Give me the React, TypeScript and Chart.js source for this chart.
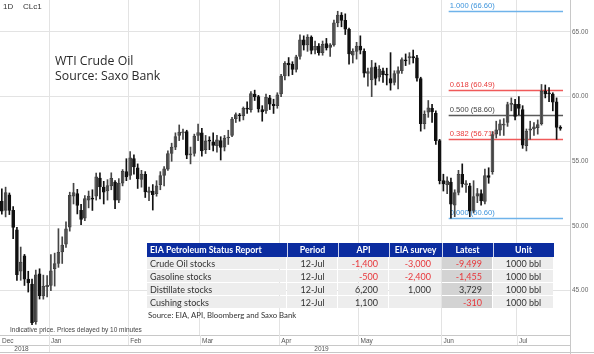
import React, { useEffect, useRef } from 'react';
import { Chart, registerables } from 'chart.js';
Chart.register(...registerables);

// ---- Data (WTI front month, daily OHLC) ----
const dates = [
  '2018-12-12','2018-12-13','2018-12-14','2018-12-17','2018-12-18','2018-12-19','2018-12-20','2018-12-21','2018-12-24','2018-12-26','2018-12-27','2018-12-28','2018-12-31',
  '2019-01-02','2019-01-03','2019-01-04','2019-01-07','2019-01-08','2019-01-09','2019-01-10','2019-01-11','2019-01-14','2019-01-15','2019-01-16','2019-01-17','2019-01-18','2019-01-22','2019-01-23','2019-01-24','2019-01-25','2019-01-28','2019-01-29','2019-01-30','2019-01-31',
  '2019-02-01','2019-02-04','2019-02-05','2019-02-06','2019-02-07','2019-02-08','2019-02-11','2019-02-12','2019-02-13','2019-02-14','2019-02-15','2019-02-19','2019-02-20','2019-02-21','2019-02-22','2019-02-25','2019-02-26','2019-02-27','2019-02-28',
  '2019-03-01','2019-03-04','2019-03-05','2019-03-06','2019-03-07','2019-03-08','2019-03-11','2019-03-12','2019-03-13','2019-03-14','2019-03-15','2019-03-18','2019-03-19','2019-03-20','2019-03-21','2019-03-22','2019-03-25','2019-03-26','2019-03-27','2019-03-28','2019-03-29',
  '2019-04-01','2019-04-02','2019-04-03','2019-04-04','2019-04-05','2019-04-08','2019-04-09','2019-04-10','2019-04-11','2019-04-12','2019-04-15','2019-04-16','2019-04-17','2019-04-18','2019-04-22','2019-04-23','2019-04-24','2019-04-25','2019-04-26','2019-04-29','2019-04-30',
  '2019-05-01','2019-05-02','2019-05-03','2019-05-06','2019-05-07','2019-05-08','2019-05-09','2019-05-10','2019-05-13','2019-05-14','2019-05-15','2019-05-16','2019-05-17','2019-05-20','2019-05-21','2019-05-22','2019-05-23','2019-05-24','2019-05-28','2019-05-29','2019-05-30','2019-05-31',
  '2019-06-03','2019-06-04','2019-06-05','2019-06-06','2019-06-07','2019-06-10','2019-06-11','2019-06-12','2019-06-13','2019-06-14','2019-06-17','2019-06-18','2019-06-19','2019-06-20','2019-06-21','2019-06-24','2019-06-25','2019-06-26','2019-06-27','2019-06-28',
  '2019-07-01','2019-07-02','2019-07-03','2019-07-05','2019-07-08','2019-07-09','2019-07-10','2019-07-11','2019-07-12','2019-07-15','2019-07-16','2019-07-17',
];
const opens = [
  51.90,51.20,52.40,51.20,49.70,46.50,47.70,45.90,45.50,42.60,46.30,44.60,45.30,
  45.40,46.70,47.10,48.00,48.60,49.90,52.30,52.50,51.20,50.60,52.00,52.10,52.30,53.70,53.00,52.70,53.10,53.40,52.00,53.30,54.20,
  53.90,55.20,54.50,53.60,54.00,52.60,52.70,52.50,53.20,53.90,54.40,55.60,56.10,57.00,57.20,57.30,55.50,55.60,57.00,
  57.20,55.90,56.60,56.50,56.20,56.60,56.10,56.80,57.00,58.30,58.60,58.50,59.10,59.00,60.20,60.00,59.00,58.90,59.90,59.40,59.30,
  60.20,61.60,62.60,62.50,62.10,63.10,64.40,64.00,64.60,63.60,63.90,63.40,64.10,63.80,64.00,65.70,66.30,65.90,65.20,63.20,63.50,
  63.90,63.50,61.80,61.30,62.30,61.50,62.00,61.70,61.40,61.10,61.80,62.00,62.80,63.00,63.10,63.00,61.40,57.90,58.80,59.10,58.70,56.60,
  53.50,53.20,53.40,51.60,52.60,54.00,53.20,53.10,51.20,52.30,52.50,51.90,53.90,54.20,57.10,57.40,57.80,58.00,59.40,59.40,
  59.40,59.00,56.20,57.40,57.50,57.60,57.90,60.40,60.30,60.20,59.60,57.60,
];
const highs = [
  52.88,53.00,52.55,51.50,49.90,48.37,47.80,46.50,45.90,46.59,46.69,46.20,46.16,
  47.78,47.90,49.79,49.16,50.31,52.61,53.30,52.83,51.68,52.35,52.70,52.80,54.09,54.10,53.45,53.58,54.11,53.50,53.66,54.36,55.20,
  55.75,55.50,54.80,54.30,54.20,53.00,53.20,53.50,54.20,54.60,55.80,56.40,57.20,57.81,57.50,57.40,56.10,57.10,57.88,
  57.55,57.00,56.90,57.20,57.00,56.90,57.00,57.40,58.40,58.74,58.70,59.20,59.60,60.39,60.50,60.10,59.30,60.20,60.10,59.80,60.30,
  61.73,62.70,63.02,62.70,63.20,64.77,64.70,64.79,64.70,64.30,64.10,64.30,64.50,64.10,65.92,66.60,66.50,66.40,65.30,63.70,64.20,
  64.70,63.70,62.20,62.80,62.60,62.40,62.20,62.20,63.40,62.00,62.30,63.00,63.30,63.40,63.60,63.20,61.50,58.90,59.70,59.40,58.90,56.70,
  54.00,53.80,53.70,52.80,54.30,54.80,53.50,53.30,53.50,52.90,52.80,54.40,54.50,57.30,58.10,58.20,58.30,59.57,59.90,59.80,
  60.00,59.30,57.50,58.10,58.00,58.20,60.94,60.90,60.70,60.30,59.90,57.75,
];
const lows = [
  50.91,50.70,50.88,49.02,45.79,45.80,45.40,44.89,42.36,42.40,44.35,44.34,44.51,
  45.00,45.35,46.80,47.10,48.35,49.60,51.70,50.93,50.10,50.40,51.40,51.20,52.00,52.10,51.70,52.00,52.80,51.33,51.80,53.10,53.50,
  53.60,54.00,52.90,53.00,52.20,51.95,51.23,52.30,52.80,53.10,54.30,55.00,55.90,56.60,56.70,55.20,54.80,55.40,56.60,
  55.40,55.60,55.90,55.80,55.70,55.10,55.80,56.30,56.90,58.00,58.10,58.20,58.70,58.80,59.70,58.80,58.10,58.70,59.00,58.70,59.10,
  60.00,61.30,61.60,61.70,61.90,62.90,63.60,63.50,63.30,63.30,63.20,63.20,63.60,63.10,63.90,65.40,65.40,64.80,62.50,62.60,62.90,
  63.30,61.50,60.80,60.00,60.90,61.20,61.10,60.90,60.50,60.90,60.60,61.80,62.40,62.50,62.60,61.20,57.33,57.50,58.40,58.00,56.30,53.25,
  52.70,52.50,50.60,50.72,52.40,53.00,52.60,50.72,51.00,51.80,51.60,51.70,53.30,54.00,56.80,57.00,57.00,57.70,58.90,58.20,
  58.60,56.00,55.80,56.70,57.00,57.10,57.80,59.90,59.60,58.90,56.70,57.40,
];
const closes = [
  51.15,52.58,51.20,49.88,46.24,47.20,45.88,45.59,42.53,46.22,44.61,45.33,45.41,
  46.54,47.09,47.96,48.52,49.78,52.36,52.59,51.59,50.51,52.11,52.31,52.07,53.80,53.01,52.62,53.13,53.69,51.99,53.31,54.23,53.79,
  55.26,54.56,53.66,54.01,52.64,52.72,52.41,53.10,53.90,54.41,55.59,56.09,56.92,57.26,57.26,55.48,55.50,56.94,57.22,
  55.80,56.59,56.56,56.22,56.66,56.07,56.79,56.87,58.26,58.61,58.52,59.09,59.03,60.23,59.98,59.04,58.82,59.94,59.41,59.30,60.14,
  61.59,62.58,62.46,62.10,63.08,64.40,63.98,64.61,63.58,63.89,63.40,64.05,63.76,64.00,65.70,66.30,65.89,65.21,63.30,63.50,63.91,
  63.60,61.81,61.94,62.25,61.40,62.12,61.70,61.66,61.04,61.78,62.02,62.87,62.76,63.10,62.99,61.42,57.91,58.63,59.14,58.81,56.59,53.50,
  53.25,53.48,51.68,52.59,53.99,53.26,53.27,51.14,52.28,52.51,51.93,53.90,53.76,57.07,57.43,57.90,57.83,59.38,59.43,58.47,
  59.09,56.25,57.34,57.51,57.66,57.83,60.43,60.20,60.21,59.58,57.62,57.55,
];

const monthNames = ['Jan','Feb','Mar','Apr','May','Jun','Jul','Aug','Sep','Oct','Nov','Dec'];

// Fibonacci retracement
const fibRatios = [1.0, 0.618, 0.5, 0.382, 0.0];
const fibPrices = [66.6, 60.49, 58.6, 56.71, 50.6];
const fibAnchorDate = '2019-06-05';

// EIA table
const tableHeaders = ['EIA Petroleum Status Report', 'Period', 'API', 'EIA survey', 'Latest', 'Unit'];
const rowNames = ['Crude Oil stocks', 'Gasoline stocks', 'Distillate stocks', 'Cushing stocks'];
const periods = ['12-Jul', '12-Jul', '12-Jul', '12-Jul'];
const apiValues = [-1400, -500, 6200, 1100];
const eiaSurvey: (number | null)[] = [-3000, -2400, 1000, null];
const latestValues = [-9499, -1455, 3729, -310];
const units = ['1000 bbl', '1000 bbl', '1000 bbl', '1000 bbl'];

// ---- styles ----
const fibLineColors = ['#6fb3ea', '#f05a5a', '#5a5a5a', '#f05a5a', '#6fb3ea'];
const fibTextColors = ['#3d94dc', '#e83a3a', '#444444', '#e83a3a', '#3d94dc'];
const GRID = '#e3e3e3';
const BORDER = '#c8c8c8';
const SANS = '"Liberation Sans", Arial, sans-serif';
const UI = '"Open Sans", "Noto Sans", sans-serif';
const TBL = 'Lato, "Open Sans", sans-serif';

const fmt = (v: number) => v.toLocaleString('en-US');

export default function App() {
  const ref = useRef<HTMLCanvasElement | null>(null);
  useEffect(() => {
    document.body.style.margin = '0';
    const canvas = ref.current!;
    const up = (i: number) => closes[i] >= opens[i];

    // month boundaries from dates
    const monthStarts: { v: number; label: string; year: number }[] = [];
    dates.forEach((d, i) => {
      const [yy, mm] = d.split('-').map(Number);
      if (i === 0 || Number(dates[i - 1].split('-')[1]) !== mm) {
        monthStarts.push({ v: i - 0.5, label: monthNames[mm - 1], year: yy });
      }
    });

    const overlay = {
      id: 'overlay',
      beforeDatasetsDraw(chart: any) {
        const { ctx, scales } = chart;
        const x = scales.x, y = scales.y;
        const x0 = x.getPixelForValue(dates.indexOf(fibAnchorDate) - 0.6);
        const x1 = x.getPixelForValue(dates.length - 1 + 0.7);
        ctx.save();
        fibRatios.forEach((r, k) => {
          const py = Math.round(y.getPixelForValue(fibPrices[k])) + 0.5;
          ctx.strokeStyle = fibLineColors[k];
          ctx.lineWidth = 1.5;
          ctx.beginPath();
          ctx.moveTo(x0, py);
          ctx.lineTo(x1, py);
          ctx.stroke();
          ctx.fillStyle = fibTextColors[k];
          ctx.font = `7.6px ${SANS}`;
          ctx.textAlign = 'left';
          ctx.textBaseline = 'alphabetic';
          ctx.fillText(`${r.toFixed(3)} (${fibPrices[k].toFixed(2)})`, x0 + 1, py - 3.5);
        });
        ctx.restore();
      },
      afterDraw(chart: any) {
        const { ctx, chartArea, scales } = chart;
        const x = scales.x;
        const W = chart.width, H = chart.height;
        const bottom = chartArea.bottom, right = chartArea.right;
        ctx.save();
        // axis frame lines
        ctx.strokeStyle = BORDER;
        ctx.lineWidth = 1;
        const hline = (yy: number, x1: number, x2: number) => { ctx.beginPath(); ctx.moveTo(x1, yy); ctx.lineTo(x2, yy); ctx.stroke(); };
        const vline = (xx: number, y1: number, y2: number) => { ctx.beginPath(); ctx.moveTo(xx, y1); ctx.lineTo(xx, y2); ctx.stroke(); };
        hline(Math.round(bottom) + 0.5, 0, right);
        hline(Math.round(bottom) + 10.5, 0, right);
        hline(H - 1.5, 0, W);
        vline(Math.round(right) + 0.5, 0, H);
        // month ticks in axis band
        ctx.strokeStyle = GRID;
        monthStarts.forEach((m, k) => {
          const px = Math.round(x.getPixelForValue(m.v)) + 0.5;
          const yearStart = k > 0 && monthStarts[k - 1].year !== m.year;
          if (px > 1) vline(px, bottom, yearStart ? H - 2 : bottom + 10);
        });
        // month labels
        ctx.fillStyle = '#555';
        ctx.font = `6.5px ${SANS}`;
        ctx.textBaseline = 'middle';
        ctx.textAlign = 'left';
        monthStarts.forEach((m) => {
          const px = Math.max(x.getPixelForValue(m.v), 0);
          ctx.fillText(m.label, px + 2, bottom + 6);
        });
        // year labels
        const years = Array.from(new Set(monthStarts.map((m) => m.year)));
        ctx.textAlign = 'center';
        years.forEach((yr, k) => {
          const first = monthStarts.find((m) => m.year === yr)!;
          const startPx = Math.max(x.getPixelForValue(first.v), 0);
          const endPx = k < years.length - 1
            ? x.getPixelForValue(monthStarts.find((m) => m.year === years[k + 1])!.v)
            : W;
          ctx.fillText(String(yr), (startPx + endPx) / 2 - (k === 0 ? 3 : 0), bottom + 14.5);
        });
        // disclaimer
        ctx.textAlign = 'left';
        ctx.fillStyle = '#444';
        ctx.font = `6.5px ${SANS}`;
        ctx.fillText('Indicative price. Prices delayed by 10 minutes', 10, bottom - 5);
        // top-left header
        ctx.fillStyle = '#333';
        ctx.font = `8px ${SANS}`;
        ctx.fillText('1D', 3, 7);
        ctx.fillText('CLc1', 23, 7);
        // title
        ctx.fillStyle = '#2a2a2a';
        ctx.font = `12.3px ${UI}`;
        ctx.textBaseline = 'alphabetic';
        ctx.fillText('WTI Crude Oil', 55, 65);
        ctx.fillText('Source: Saxo Bank', 55, 80);

        // table
        const colEdges = [147, 287, 338, 389, 442, 493, 554];
        const rowEdges = [243, 257, 270, 283, 296, 309];
        ctx.fillStyle = '#0b2c9f';
        ctx.fillRect(colEdges[0], rowEdges[0], colEdges[6] - colEdges[0], rowEdges[1] - rowEdges[0]);
        ctx.strokeStyle = 'rgba(255,255,255,0.8)';
        for (let c = 1; c < 6; c++) vline(colEdges[c] + 0.5, rowEdges[0], rowEdges[1]);
        ctx.font = `bold 8.8px ${TBL}`;
        ctx.fillStyle = '#ffffff';
        ctx.textBaseline = 'middle';
        const hy = (rowEdges[0] + rowEdges[1]) / 2 + 0.5;
        tableHeaders.forEach((h, c) => {
          if (c === 0) { ctx.textAlign = 'left'; ctx.fillText(h, colEdges[0] + 3, hy); }
          else { ctx.textAlign = 'center'; ctx.fillText(h, (colEdges[c] + colEdges[c + 1]) / 2, hy); }
        });
        ctx.font = `9px ${TBL}`;
        rowNames.forEach((name, r) => {
          const top = rowEdges[r + 1], bot = rowEdges[r + 2];
          const cy = (top + bot) / 2 + 0.5;
          for (let c = 0; c < 6; c++) {
            ctx.fillStyle = c === 4 ? '#d3d3d3' : '#ededed';
            ctx.fillRect(colEdges[c], top, colEdges[c + 1] - colEdges[c] - 1, bot - top - 1);
          }
          const cell = (txt: string, c: number, align: 'left' | 'center' | 'right', neg: boolean) => {
            ctx.fillStyle = neg ? '#e8373b' : '#333';
            ctx.textAlign = align;
            const xx = align === 'left' ? colEdges[c] + 3 : align === 'center' ? (colEdges[c] + colEdges[c + 1]) / 2 : colEdges[c + 1] - 11;
            ctx.fillText(txt, xx, cy);
          };
          cell(name, 0, 'left', false);
          cell(periods[r], 1, 'center', false);
          cell(fmt(apiValues[r]), 2, 'right', apiValues[r] < 0);
          const e = eiaSurvey[r];
          if (e !== null) cell(fmt(e), 3, 'right', e < 0);
          cell(fmt(latestValues[r]), 4, 'right', latestValues[r] < 0);
          cell(units[r], 5, 'center', false);
        });
        ctx.fillStyle = '#333';
        ctx.textAlign = 'left';
        ctx.font = `7.8px ${TBL}`;
        ctx.fillText('Source: EIA, API, Bloomberg and Saxo Bank', colEdges[0] + 1, rowEdges[5] + 6);
        ctx.restore();
      },
    };

    const chart = new Chart(canvas, {
      type: 'bar',
      data: {
        datasets: [
          {
            data: dates.map((_, i) => ({ x: i, y: [lows[i], highs[i]] })) as any,
            barThickness: 1,
            grouped: false,
            backgroundColor: (c: any) => (up(c.dataIndex) ? '#454545' : '#111111'),
            borderWidth: 0,
          } as any,
          {
            data: dates.map((_, i) => ({ x: i, y: [opens[i], closes[i]] })) as any,
            barThickness: 3,
            grouped: false,
            minBarLength: 1,
            backgroundColor: (c: any) => (up(c.dataIndex) ? '#b4b4b4' : '#111111'),
            borderColor: (c: any) => (up(c.dataIndex) ? '#3c3c3c' : '#111111'),
            borderWidth: 1,
            borderSkipped: false,
          } as any,
        ],
      },
      options: {
        animation: false,
        responsive: false,
        maintainAspectRatio: false,
        layout: { padding: 0 },
        plugins: { legend: { display: false }, tooltip: { enabled: false } },
        scales: {
          x: {
            type: 'linear',
            offset: false,
            min: -0.485,
            max: 150.55,
            ticks: { display: false },
            grid: { color: GRID, drawTicks: false, offset: false },
            border: { display: false },
            afterBuildTicks: (s: any) => { s.ticks = monthStarts.map((m) => ({ value: m.v })); },
            afterFit: (s: any) => { s.height = 19; s.paddingLeft = 0; s.paddingRight = 0; },
          },
          y: {
            position: 'right',
            min: 41.57,
            max: 67.47,
            ticks: {
              stepSize: 5,
              includeBounds: false,
              callback: (v: any) => Number(v).toFixed(2),
              font: { size: 6.5, family: SANS },
              color: '#666',
              padding: 2,
            },
            grid: { color: GRID, drawTicks: false },
            border: { display: false },
            afterFit: (s: any) => { s.width = 24; s.paddingTop = 0; s.paddingBottom = 0; },
          },
        },
      } as any,
      plugins: [overlay],
    });
    return () => chart.destroy();
  }, []);
  return (
    <div style={{ position: 'relative', width: 594, height: 354, background: '#fff' }}>
      <canvas ref={ref} width={594} height={354} style={{ display: 'block', width: 594, height: 354 }} />
    </div>
  );
}
